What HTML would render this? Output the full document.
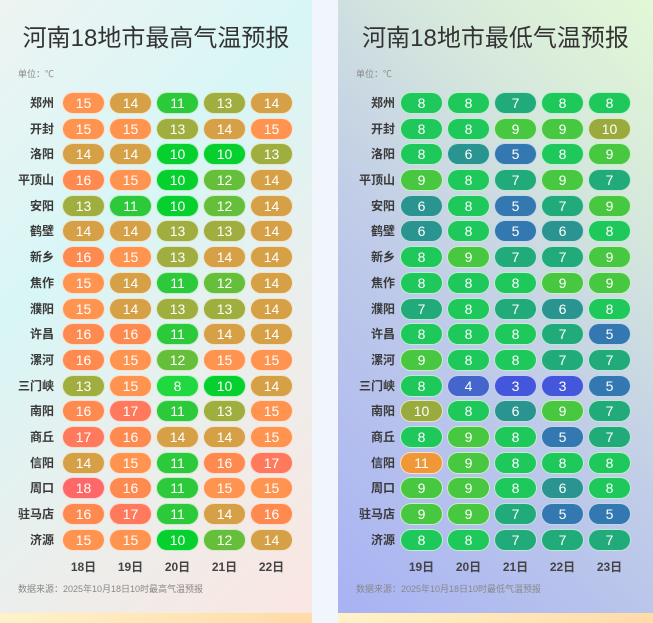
<!DOCTYPE html>
<html><head><meta charset="utf-8"><style>
*{margin:0;padding:0;box-sizing:border-box}
body{width:653px;height:623px;background:#f0f6fb;position:relative;overflow:hidden;font-family:"Liberation Sans","Noto Sans CJK SC",sans-serif}
.p{position:absolute;top:0;height:613px}
.L{left:0;width:312px;background:linear-gradient(135deg,#eef4f2 0%,#d8f6f6 35%,#e8f0ee 60%,#fbe6e2 100%)}
.R{left:338px;width:315px;background:linear-gradient(45deg,#a8b2f4 0%,#c0cce8 45%,#d6e8dc 75%,#e2f8d6 100%)}
.strip{position:absolute;top:613px;height:10px;background:linear-gradient(90deg,#fff2c8,#ffdba8)}
h1{position:absolute;top:18px;width:100%;text-align:center;font-size:24px;font-weight:normal;color:#333}
.u{position:absolute;left:18px;top:67px;font-size:9px;color:#888}
.src{position:absolute;left:18px;top:582px;font-size:9px;color:#888}
.row{position:absolute;left:0;height:22px;width:100%}
.row b{position:absolute;right:258px;top:0;line-height:22px;font-size:12px;color:#3a3a3a;font-weight:bold}
.row i{position:absolute;top:0;width:43px;height:22px;border-radius:11px;border:1px solid rgba(255,255,255,.7);color:#fff;font-style:normal;font-size:14px;line-height:20px;text-align:center}
.c1{left:62px}.c2{left:109px}.c3{left:156px}.c4{left:203px}.c5{left:250px}
.d{position:absolute;top:558px;width:43px;text-align:center;font-size:12px;color:#444;font-weight:bold}
.t8{background:#20d840}.t10{background:#05d02e}.t11{background:#2cc93a}.t12{background:#66bf3a}.t13{background:#9fae3e}.t14{background:#d6a046}.t15{background:#ff9450}.t16{background:#ff8a50}.t17{background:#ff7a5c}.t18{background:#ff6868}
.m3{background:#4456dc}.m4{background:#4466cc}.m5{background:#3378b0}.m6{background:#2a9590}.m7{background:#22ab7a}.m8{background:#1ec85a}.m9{background:#48c840}.m10{background:#9aab3e}.m11{background:#f09838}
</style></head><body>
<div class="p L">
<h1>河南18地市最高气温预报</h1>
<div class="u">单位：℃</div>
<div class="row" style="top:92px"><b>郑州</b><i class="c1 t15">15</i><i class="c2 t14">14</i><i class="c3 t11">11</i><i class="c4 t13">13</i><i class="c5 t14">14</i></div>
<div class="row" style="top:118px"><b>开封</b><i class="c1 t15">15</i><i class="c2 t15">15</i><i class="c3 t13">13</i><i class="c4 t14">14</i><i class="c5 t15">15</i></div>
<div class="row" style="top:143px"><b>洛阳</b><i class="c1 t14">14</i><i class="c2 t14">14</i><i class="c3 t10">10</i><i class="c4 t10">10</i><i class="c5 t13">13</i></div>
<div class="row" style="top:169px"><b>平顶山</b><i class="c1 t16">16</i><i class="c2 t15">15</i><i class="c3 t10">10</i><i class="c4 t12">12</i><i class="c5 t14">14</i></div>
<div class="row" style="top:195px"><b>安阳</b><i class="c1 t13">13</i><i class="c2 t11">11</i><i class="c3 t10">10</i><i class="c4 t12">12</i><i class="c5 t14">14</i></div>
<div class="row" style="top:220px"><b>鹤壁</b><i class="c1 t14">14</i><i class="c2 t14">14</i><i class="c3 t13">13</i><i class="c4 t13">13</i><i class="c5 t14">14</i></div>
<div class="row" style="top:246px"><b>新乡</b><i class="c1 t16">16</i><i class="c2 t15">15</i><i class="c3 t13">13</i><i class="c4 t14">14</i><i class="c5 t14">14</i></div>
<div class="row" style="top:272px"><b>焦作</b><i class="c1 t15">15</i><i class="c2 t14">14</i><i class="c3 t11">11</i><i class="c4 t12">12</i><i class="c5 t14">14</i></div>
<div class="row" style="top:298px"><b>濮阳</b><i class="c1 t15">15</i><i class="c2 t14">14</i><i class="c3 t13">13</i><i class="c4 t13">13</i><i class="c5 t14">14</i></div>
<div class="row" style="top:323px"><b>许昌</b><i class="c1 t16">16</i><i class="c2 t16">16</i><i class="c3 t11">11</i><i class="c4 t14">14</i><i class="c5 t14">14</i></div>
<div class="row" style="top:349px"><b>漯河</b><i class="c1 t16">16</i><i class="c2 t15">15</i><i class="c3 t12">12</i><i class="c4 t15">15</i><i class="c5 t15">15</i></div>
<div class="row" style="top:375px"><b>三门峡</b><i class="c1 t13">13</i><i class="c2 t15">15</i><i class="c3 t8">8</i><i class="c4 t10">10</i><i class="c5 t14">14</i></div>
<div class="row" style="top:400px"><b>南阳</b><i class="c1 t16">16</i><i class="c2 t17">17</i><i class="c3 t11">11</i><i class="c4 t13">13</i><i class="c5 t15">15</i></div>
<div class="row" style="top:426px"><b>商丘</b><i class="c1 t17">17</i><i class="c2 t16">16</i><i class="c3 t14">14</i><i class="c4 t14">14</i><i class="c5 t15">15</i></div>
<div class="row" style="top:452px"><b>信阳</b><i class="c1 t14">14</i><i class="c2 t15">15</i><i class="c3 t11">11</i><i class="c4 t16">16</i><i class="c5 t17">17</i></div>
<div class="row" style="top:477px"><b>周口</b><i class="c1 t18">18</i><i class="c2 t16">16</i><i class="c3 t11">11</i><i class="c4 t15">15</i><i class="c5 t15">15</i></div>
<div class="row" style="top:503px"><b>驻马店</b><i class="c1 t16">16</i><i class="c2 t17">17</i><i class="c3 t11">11</i><i class="c4 t14">14</i><i class="c5 t16">16</i></div>
<div class="row" style="top:529px"><b>济源</b><i class="c1 t15">15</i><i class="c2 t15">15</i><i class="c3 t10">10</i><i class="c4 t12">12</i><i class="c5 t14">14</i></div>
<div class="d c1">18日</div><div class="d c2">19日</div><div class="d c3">20日</div><div class="d c4">21日</div><div class="d c5">22日</div>
<div class="src">数据来源：2025年10月18日10时最高气温预报</div>
</div>
<div class="p R">
<h1>河南18地市最低气温预报</h1>
<div class="u">单位：℃</div>
<div class="row" style="top:92px"><b>郑州</b><i class="c1 m8">8</i><i class="c2 m8">8</i><i class="c3 m7">7</i><i class="c4 m8">8</i><i class="c5 m8">8</i></div>
<div class="row" style="top:118px"><b>开封</b><i class="c1 m8">8</i><i class="c2 m8">8</i><i class="c3 m9">9</i><i class="c4 m9">9</i><i class="c5 m10">10</i></div>
<div class="row" style="top:143px"><b>洛阳</b><i class="c1 m8">8</i><i class="c2 m6">6</i><i class="c3 m5">5</i><i class="c4 m8">8</i><i class="c5 m9">9</i></div>
<div class="row" style="top:169px"><b>平顶山</b><i class="c1 m9">9</i><i class="c2 m8">8</i><i class="c3 m7">7</i><i class="c4 m9">9</i><i class="c5 m7">7</i></div>
<div class="row" style="top:195px"><b>安阳</b><i class="c1 m6">6</i><i class="c2 m8">8</i><i class="c3 m5">5</i><i class="c4 m7">7</i><i class="c5 m9">9</i></div>
<div class="row" style="top:220px"><b>鹤壁</b><i class="c1 m6">6</i><i class="c2 m8">8</i><i class="c3 m5">5</i><i class="c4 m6">6</i><i class="c5 m8">8</i></div>
<div class="row" style="top:246px"><b>新乡</b><i class="c1 m8">8</i><i class="c2 m9">9</i><i class="c3 m7">7</i><i class="c4 m7">7</i><i class="c5 m9">9</i></div>
<div class="row" style="top:272px"><b>焦作</b><i class="c1 m8">8</i><i class="c2 m8">8</i><i class="c3 m8">8</i><i class="c4 m9">9</i><i class="c5 m9">9</i></div>
<div class="row" style="top:298px"><b>濮阳</b><i class="c1 m7">7</i><i class="c2 m8">8</i><i class="c3 m7">7</i><i class="c4 m6">6</i><i class="c5 m8">8</i></div>
<div class="row" style="top:323px"><b>许昌</b><i class="c1 m8">8</i><i class="c2 m8">8</i><i class="c3 m8">8</i><i class="c4 m7">7</i><i class="c5 m5">5</i></div>
<div class="row" style="top:349px"><b>漯河</b><i class="c1 m9">9</i><i class="c2 m8">8</i><i class="c3 m8">8</i><i class="c4 m7">7</i><i class="c5 m7">7</i></div>
<div class="row" style="top:375px"><b>三门峡</b><i class="c1 m8">8</i><i class="c2 m4">4</i><i class="c3 m3">3</i><i class="c4 m3">3</i><i class="c5 m5">5</i></div>
<div class="row" style="top:400px"><b>南阳</b><i class="c1 m10">10</i><i class="c2 m8">8</i><i class="c3 m6">6</i><i class="c4 m9">9</i><i class="c5 m7">7</i></div>
<div class="row" style="top:426px"><b>商丘</b><i class="c1 m8">8</i><i class="c2 m9">9</i><i class="c3 m8">8</i><i class="c4 m5">5</i><i class="c5 m7">7</i></div>
<div class="row" style="top:452px"><b>信阳</b><i class="c1 m11">11</i><i class="c2 m9">9</i><i class="c3 m8">8</i><i class="c4 m8">8</i><i class="c5 m8">8</i></div>
<div class="row" style="top:477px"><b>周口</b><i class="c1 m9">9</i><i class="c2 m9">9</i><i class="c3 m8">8</i><i class="c4 m6">6</i><i class="c5 m8">8</i></div>
<div class="row" style="top:503px"><b>驻马店</b><i class="c1 m9">9</i><i class="c2 m9">9</i><i class="c3 m7">7</i><i class="c4 m5">5</i><i class="c5 m5">5</i></div>
<div class="row" style="top:529px"><b>济源</b><i class="c1 m8">8</i><i class="c2 m8">8</i><i class="c3 m7">7</i><i class="c4 m7">7</i><i class="c5 m7">7</i></div>
<div class="d c1">19日</div><div class="d c2">20日</div><div class="d c3">21日</div><div class="d c4">22日</div><div class="d c5">23日</div>
<div class="src">数据来源：2025年10月18日10时最低气温预报</div>
</div>
<div class="strip" style="left:0;width:312px"></div>
<div class="strip" style="left:338px;width:315px"></div>
</body></html>
